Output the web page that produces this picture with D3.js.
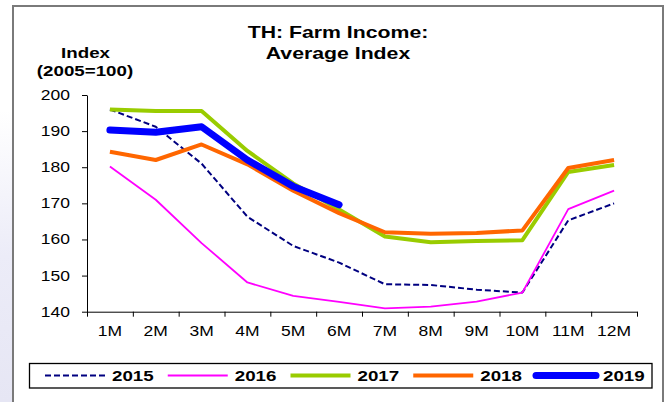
<!DOCTYPE html>
<html>
<head>
<meta charset="utf-8">
<script src="https://cdn.jsdelivr.net/npm/d3@7"></script>
<style>
body { margin: 0; background: #fff; }
text { font-family: 'Liberation Sans', Arial, sans-serif; }
</style>
</head>
<body>
<div id="main"></div>
<script>
const months = ['1M', '2M', '3M', '4M', '5M', '6M', '7M', '8M', '9M', '10M', '11M', '12M']
const years = ['2015', '2016', '2017', '2018', '2019']
const v2015 = [196, 191.2, 181, 166.3, 158.2, 153.6, 147.6, 147.4, 146.1, 145.3, 165.3, 170]
const v2016 = [180.2, 171, 159, 148.1, 144.4, 142.7, 140.9, 141.4, 142.8, 145.3, 168.4, 173.5]
const v2017 = [196, 195.6, 195.6, 184.5, 175.5, 168.3, 160.8, 159.2, 159.6, 159.8, 178.7, 180.6]
const v2018 = [184.3, 182, 186.3, 180.8, 173.5, 167.3, 162, 161.6, 161.8, 162.5, 179.8, 182]
const v2019 = [190.3, 189.7, 191.2, 182, 174.7, 169.6]
const yTicks = [140, 150, 160, 170, 180, 190, 200]

const w = 668, h = 402, sx = 1.25
const plotLeft = 87, plotRight = 637, plotTop = 95, plotBottom = 311.7

// series styles
const styles = [
    { data: v2015, color: '#000080', width: 2, dash: '6,3', cap: 'butt' },
    { data: v2016, color: '#ff00ff', width: 1.8, dash: null, cap: 'butt' },
    { data: v2017, color: '#99cc00', width: 4, dash: null, cap: 'butt' },
    { data: v2018, color: '#ff6600', width: 4, dash: null, cap: 'butt' },
    { data: v2019, color: '#0000ff', width: 7, dash: null, cap: 'round' }
]

const svg = d3.select('#main')
            .append('svg')
            .attr('width', w)
            .attr('height', h)

// faint watermark on the left edge
const grad = svg.append('defs').append('linearGradient')
                .attr('id', 'wm').attr('x1', 0).attr('y1', 0).attr('x2', 0).attr('y2', 1)
grad.append('stop').attr('offset', '0').attr('stop-color', '#ffffff')
grad.append('stop').attr('offset', '0.5').attr('stop-color', '#ececf8')
grad.append('stop').attr('offset', '1').attr('stop-color', '#e6e6f4')
svg.append('rect')
    .attr('x', 0).attr('y', 110).attr('width', 12).attr('height', h - 110)
    .attr('fill', 'url(#wm)')

// outer frame
svg.append('rect')
    .attr('x', 13).attr('y', 6).attr('width', 650).attr('height', h)
    .attr('fill', 'none')
    .attr('stroke', '#7a7a7a')
    .attr('stroke-width', 2)

const x = d3.scaleBand().domain(months).range([plotLeft, plotRight])
const xEdge = d3.scaleLinear().domain([0, months.length]).range([plotLeft, plotRight])
const y = d3.scaleLinear().domain([140, 200]).range([plotBottom, plotTop])

const stretch = (tx, ty) => 'translate(' + tx + ',' + ty + ') scale(' + sx + ',1)'

// title
svg.append('text')
    .text('TH: Farm Income:')
    .attr('transform', stretch(338, 37.5))
    .attr('text-anchor', 'middle')
    .attr('font-weight', 'bold')
    .attr('font-size', 17)
svg.append('text')
    .text('Average Index')
    .attr('transform', stretch(338, 59))
    .attr('text-anchor', 'middle')
    .attr('font-weight', 'bold')
    .attr('font-size', 17)

svg.append('text')
    .text('Index')
    .attr('transform', stretch(85.5, 58))
    .attr('text-anchor', 'middle')
    .attr('font-weight', 'bold')
    .attr('font-size', 15)
svg.append('text')
    .text('(2005=100)')
    .attr('transform', stretch(85, 76))
    .attr('text-anchor', 'middle')
    .attr('font-weight', 'bold')
    .attr('font-size', 15)

// y axis
const yAxis = d3.axisLeft(y)
                .tickValues(yTicks)
                .tickSize(5)
                .tickSizeOuter(0)
const yLine = svg.append('g')
                .attr('transform', 'translate(' + plotLeft + ',0)')
                .call(yAxis)
yLine.selectAll('text')
    .attr('x', 0)
    .attr('transform', stretch(-17, 0))
    .attr('font-size', 14)
    .attr('fill', '#000')
yLine.attr('font-family', null)

// x axis: ticks at the category edges, labels in the middle
const xAxis = d3.axisBottom(xEdge)
                .tickValues(d3.range(months.length + 1))
                .tickFormat('')
                .tickSize(5)
                .tickSizeOuter(0)
svg.append('g')
    .attr('transform', 'translate(0,' + plotBottom + ')')
    .call(xAxis)

const xLabels = svg.append('g')
                .attr('transform', 'translate(0,' + plotBottom + ')')
                .call(d3.axisBottom(x).tickSize(0))
xLabels.attr('font-family', null)
xLabels.select('.domain').remove()
xLabels.selectAll('text')
    .attr('y', 0)
    .attr('dy', 0)
    .attr('transform', stretch(0, 24.3))
    .attr('font-size', 14)
    .attr('fill', '#000')

svg.selectAll('.domain, .tick line').attr('stroke', '#000')

// series
const line = d3.line()
                .x((d, i) => x(months[i]) + x.bandwidth() / 2)
                .y(d => y(d))

svg.append('g')
    .selectAll('path')
    .data(styles)
    .enter()
    .append('path')
    .attr('d', s => line(s.data))
    .attr('fill', 'none')
    .attr('stroke', s => s.color)
    .attr('stroke-width', s => s.width)
    .attr('stroke-dasharray', s => s.dash)
    .attr('stroke-linecap', s => s.cap)
    .attr('stroke-linejoin', 'round')

// legend
svg.append('rect')
    .attr('x', 29.5).attr('y', 363.5).attr('width', 622.5).attr('height', 24.5)
    .attr('fill', '#fff')
    .attr('stroke', '#000')
    .attr('stroke-width', 1.3)

const legendX = d3.scaleBand().domain(years).range([45, 45 + 122.75 * years.length])
const items = svg.append('g')
                .selectAll('g')
                .data(years)
                .enter()
                .append('g')
                .attr('transform', d => 'translate(' + legendX(d) + ',375.5)')
items.append('line')
    .attr('x1', 0).attr('x2', 60)
    .attr('stroke', (d, i) => styles[i].color)
    .attr('stroke-width', (d, i) => styles[i].width)
    .attr('stroke-dasharray', (d, i) => styles[i].dash)
    .attr('stroke-linecap', (d, i) => styles[i].cap)
items.append('text')
    .text(d => d)
    .attr('transform', stretch(67, 5.5))
    .attr('font-weight', 'bold')
    .attr('font-size', 15)
</script>
</body>
</html>
